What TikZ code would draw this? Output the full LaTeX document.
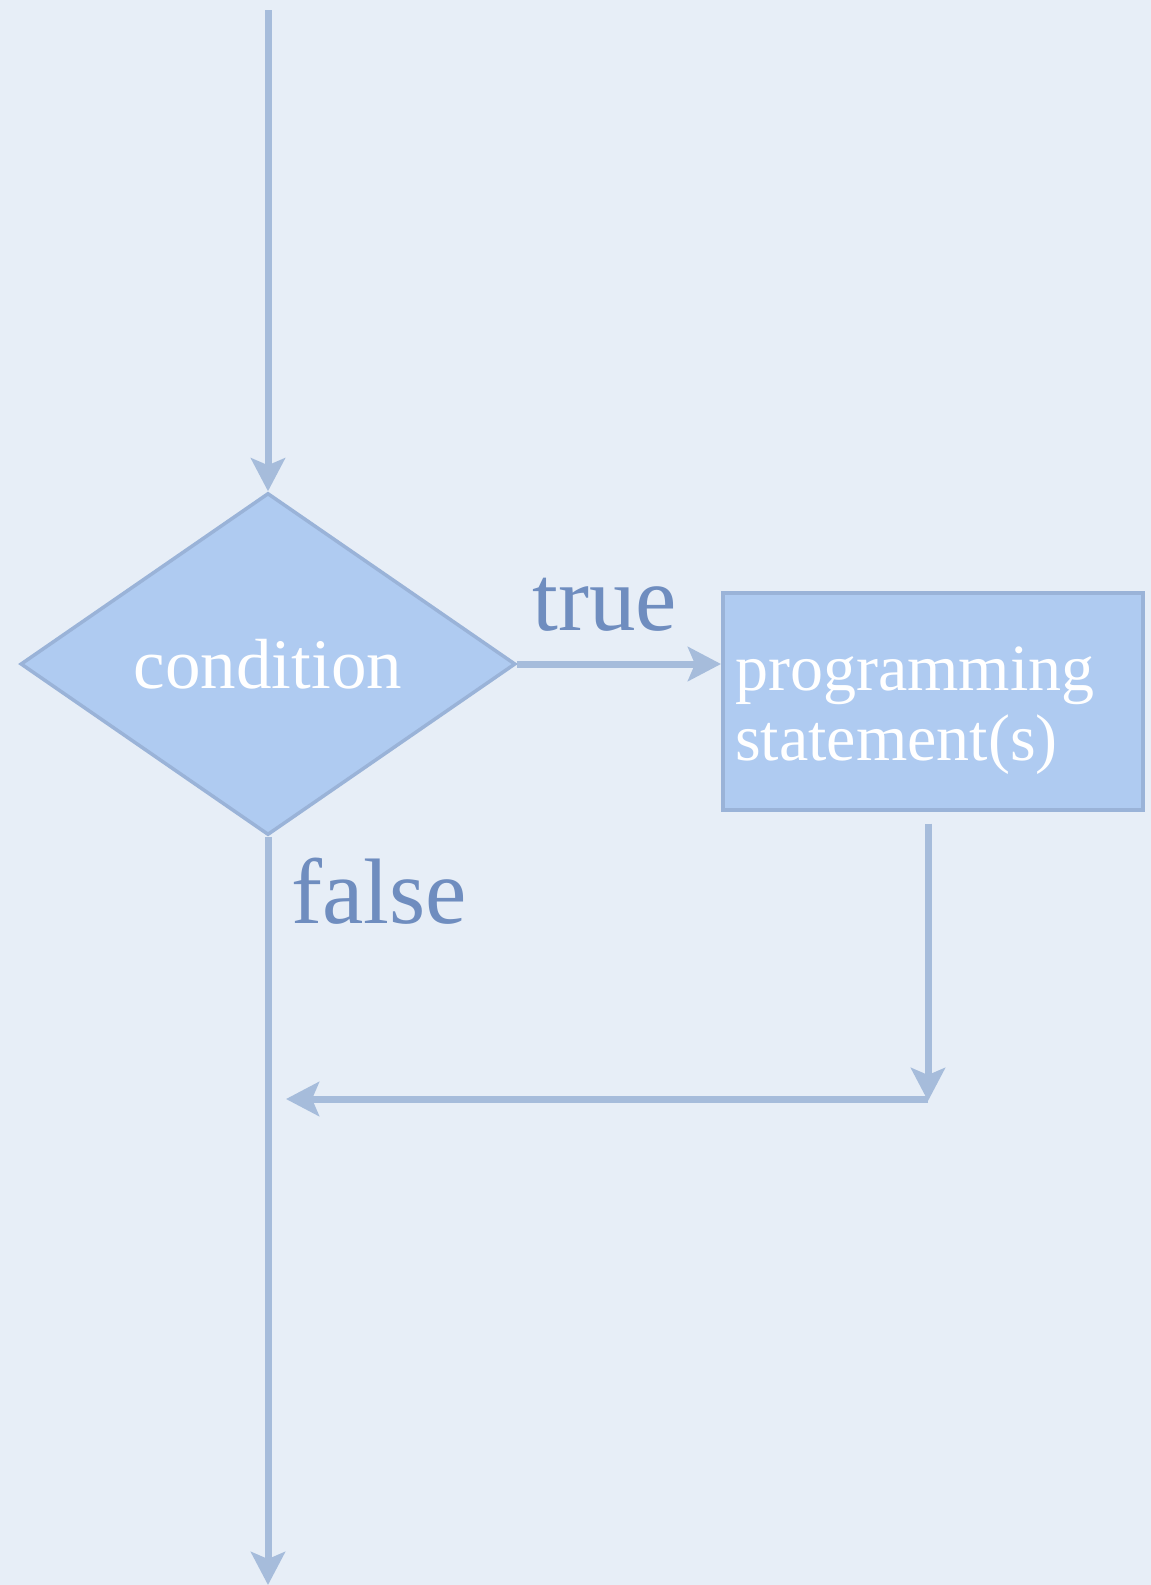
\documentclass[tikz,border=0pt]{standalone}
\usepackage{fontspec}
\setmainfont{Liberation Serif}
\usetikzlibrary{shapes.geometric,arrows.meta}
\definecolor{bgc}{HTML}{E7EEF7}
\definecolor{fillb}{HTML}{AFCBF1}
\definecolor{edgeb}{HTML}{9AB3D8}
\definecolor{lineb}{HTML}{A6BCDB}
\definecolor{labc}{HTML}{6F8DBF}
\begin{document}
\begin{tikzpicture}[x=1pt,y=-1pt,
  conn/.style={draw=lineb, line width=7pt, -{Stealth[length=33pt,width=34pt,inset=7pt]}},
  decision/.style={diamond, draw=edgeb, line width=3.5pt, fill=fillb, text=white,
    minimum width=495pt, minimum height=342pt, shape aspect=1.447, inner sep=0pt,
    font=\fontsize{71}{75}\selectfont},
  process/.style={rectangle, draw=edgeb, line width=3.5pt, fill=fillb,
    minimum width=420pt, minimum height=217pt, inner sep=0pt},
  boxtext/.style={text=white, align=left, inner sep=0pt,
    font=\fontsize{66}{70}\selectfont},
  lbl/.style={text=labc, inner sep=0pt, font=\fontsize{93}{97}\selectfont}]
\fill[bgc] (0,0) rectangle (1151,1585);
\useasboundingbox (0,0) rectangle (1151,1585);

\node[decision] (cond) at (268,664) {condition};
\node[process, anchor=north west] (stmt) at (721,591) {};
\node[boxtext, anchor=base west] (stmttext) at (735,760) {programming\\statement(s)};

\node[lbl, anchor=base west] (truel) at (532,630) {true};
\node[lbl, anchor=base west] (falsel) at (291,923) {false};

\coordinate (top) at (268,10);
\coordinate (corner) at (928,1099);
\coordinate (merge) at (286,1099);
\coordinate (bottom) at (268,1585);

\draw[conn] (top) -- (cond.north);
\draw[conn] (cond.east) -- (cond.east -| stmt.west);
\draw[conn] ([yshift=-12pt]stmt.south -| corner) -- ([yshift=-2pt]corner);
\draw[conn] (corner) -- (merge);
\draw[conn] (cond.south) -- (bottom);
\end{tikzpicture}
\end{document}
